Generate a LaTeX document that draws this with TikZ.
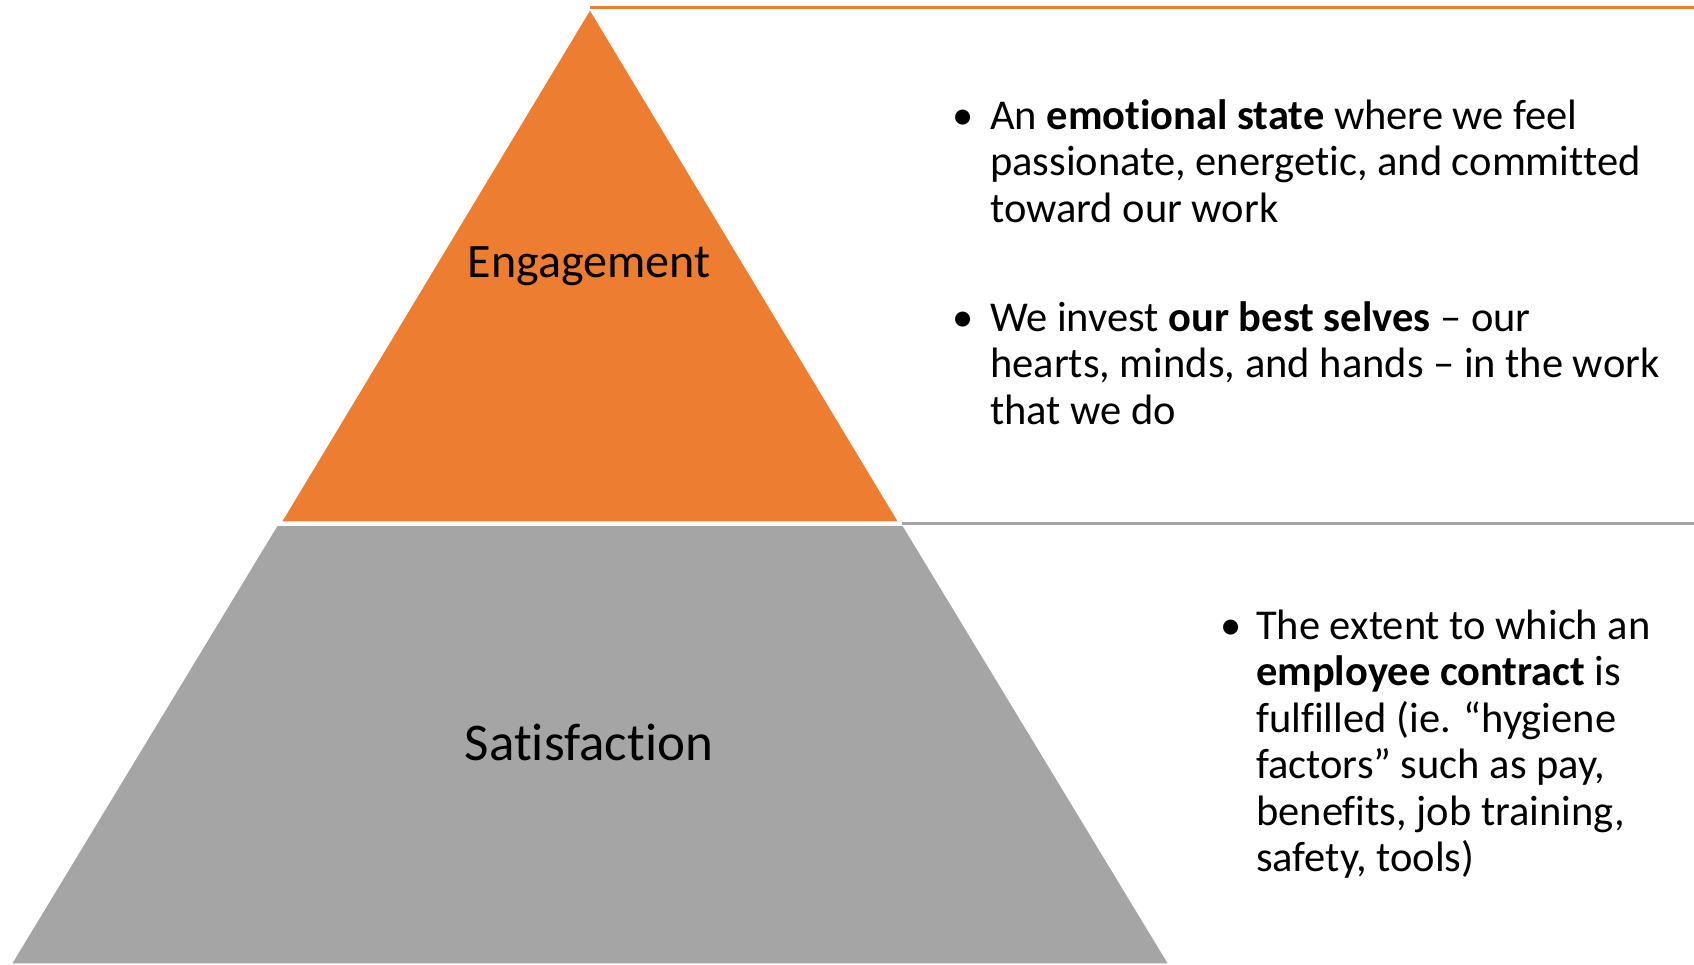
\documentclass[tikz,border=0pt]{standalone}
\usepackage{fontspec}
\setmainfont{Carlito}[Ligatures={TeX,NoCommon}]
\definecolor{engorange}{HTML}{ED7D31}
\definecolor{satgray}{HTML}{A5A5A5}
\tikzset{
    level/.style={draw=white, line width=1.5pt},
    label/.style={anchor=base, inner sep=0pt},
    bullet/.style={anchor=base, font=\fontsize{42.5}{46.5}\selectfont, inner sep=0pt},
    blurb/.style={anchor=base west, align=flush left, inner sep=0pt, text width=720pt,
        font=\fontsize{42.5}{46.5}\selectfont},
}

\begin{document}
\begin{tikzpicture}[x=1pt, y=-1pt]
    \useasboundingbox (0, 0) rectangle (1694, 964);
    \coordinate (apex) at (590, 9);
    \coordinate (top) at (590, 7);
    \coordinate (mid) at (902, 523);
    % top level
    \begin{scope}
        \fill[engorange] (590, 9) -- (899, 522) -- (281, 522) -- cycle;
        \draw[level] (590, 9) -- (899, 522) -- (281, 522) -- cycle;
        \draw[engorange, line width=3pt] (top) -- (1694, 7);
        \node[label, font=\fontsize{48}{56}\selectfont] (eng) at (589, 277) {Engagement};
    \end{scope}
    % bottom level
    \begin{scope}
        \fill[satgray] (277, 525) -- (903, 525) -- (1169, 964) -- (11, 964) -- cycle;
        \draw[level] (277, 525) -- (903, 525) -- (1169, 964) -- (11, 964) -- cycle;
        \draw[satgray, line width=3pt] (mid) -- (1694, 523);
        \node[label, font=\fontsize{53}{60}\selectfont] (sat) at (589, 760) {Satisfaction};
    \end{scope}
    % bullet text
    \node[bullet] (b1) at (963, 129) {\textbullet};
    \node[blurb] (t1) at (990, 129) {An \textbf{emotional state} where we feel\\
        passionate, energetic, and committed\\ toward our work};
    \node[bullet] (b2) at (963, 331) {\textbullet};
    \node[blurb] (t2) at (990, 331) {We invest \textbf{our best selves} -- our\\
        hearts, minds, and hands -- in the work\\ that we do};
    \node[bullet] (b3) at (1231, 639) {\textbullet};
    \node[blurb] (t3) at (1256, 639) {The extent to which an\\
        \textbf{employee contract} is\\ fulfilled (ie. ``hygiene\\
        factors'' such as pay,\\ benefits, job training,\\ safety, tools)};
\end{tikzpicture}
\end{document}
